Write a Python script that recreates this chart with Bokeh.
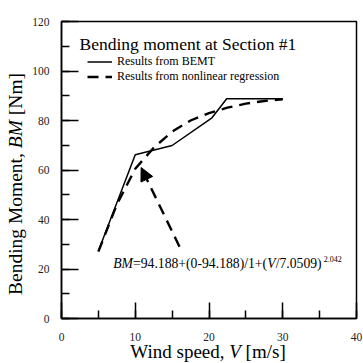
import math
from bokeh.plotting import figure
from bokeh.layouts import column, row
from bokeh.models import Label, Legend, LegendItem, Arrow, NormalHead, Range1d, SingleIntervalTicker, Div
from bokeh.embed import file_html
from bokeh.resources import INLINE

# ---------------- data ----------------
wind_bemt = [5.0, 10.0, 15.0, 20.4, 22.4, 30.0]
bm_bemt = [27.3, 66.2, 69.9, 81.1, 88.8, 88.8]

wind_reg = [5.0, 7.5, 10.0, 12.5, 15.0, 17.5, 20.0, 22.5, 25.0, 27.5, 30.0]
bm_reg = [27.0, 46.0, 60.5, 69.0, 75.5, 80.0, 83.0, 85.2, 86.8, 87.9, 88.6]

arrow_x = [16.0, 10.8]
arrow_y = [29.0, 61.0]

x_limits = [0, 40]
y_limits = [0, 120]

title_text = "Bending moment at Section #1"
legend_labels = ["Results from BEMT", "Results from nonlinear regression"]
x_label_html = "Wind speed, <i>V</i> [m/s]"
y_label_html = "Bending Moment, <i>BM</i> [Nm]"
formula_runs = [("BM", True), ("=94.188+(0-94.188)/1+(", False), ("V", True), ("/7.0509)", False)]
formula_sup = "2.042"

FONT = "Liberation Serif"

# Times metrics (per 1000 em) for laying out mixed-style text runs
REG = {" ": 250, ",": 250, ".": 250, "-": 333, "/": 278, "(": 333, ")": 333, "[": 333, "]": 333,
       "+": 564, "=": 564, "#": 500}
ITA = {"B": 611, "M": 833, "V": 611, " ": 250}


def tw(s, size, italic=False):
    tbl = ITA if italic else REG
    return sum(tbl.get(c, 500) for c in s) * size / 1000.0


p = figure(width=334, height=343, x_range=Range1d(*x_limits), y_range=Range1d(*y_limits),
           output_backend="svg", toolbar_location=None,
           min_border_left=31, min_border_right=7, min_border_top=21, min_border_bottom=25)
p.margin = 0
p.background_fill_color = "white"
p.border_fill_color = "white"
p.outline_line_color = "black"
p.outline_line_width = 1.5
p.xgrid.visible = False
p.ygrid.visible = False

p.xaxis.ticker = SingleIntervalTicker(interval=10, num_minor_ticks=2)
p.yaxis.ticker = SingleIntervalTicker(interval=20, num_minor_ticks=2)
for ax in (p.xaxis[0], p.yaxis[0]):
    ax.axis_line_color = "black"
    ax.axis_line_width = 1.5
    ax.major_tick_line_color = "black"
    ax.major_tick_line_width = 1.5
    ax.minor_tick_line_color = "black"
    ax.minor_tick_line_width = 1.5
    ax.major_tick_out = 0
    ax.minor_tick_out = 0
    ax.minor_tick_in = 8
    ax.major_label_text_font = FONT
    ax.major_label_text_font_size = "11.5px"
    ax.major_label_text_color = "#222222"
p.xaxis.major_tick_in = 16
p.yaxis.major_tick_in = 17
p.xaxis.major_label_standoff = 14
p.yaxis.major_label_standoff = 12
p.yaxis.major_label_text_baseline = "bottom"

r_bemt = p.line(wind_bemt, bm_bemt, line_color="black", line_width=1.5)
r_reg = p.line(wind_reg, bm_reg, line_color="black", line_width=2.4, line_dash="11 7")

legend = Legend(items=[LegendItem(label=legend_labels[0], renderers=[r_bemt]),
                       LegendItem(label=legend_labels[1], renderers=[r_reg])],
                location=(26, 234.5), padding=0, margin=0, spacing=0,
                glyph_width=25, glyph_height=15, label_height=15, label_standoff=5,
                label_text_font=FONT, label_text_font_size="12px", label_text_color="black",
                background_fill_alpha=0, border_line_alpha=0)
p.add_layout(legend)

p.add_layout(Arrow(x_start=arrow_x[0], y_start=arrow_y[0], x_end=arrow_x[1], y_end=arrow_y[1],
                   line_color="black", line_width=2.4, line_dash="11 7",
                   end=NormalHead(size=13, fill_color="black", line_color="black", line_width=1)))

# title inside the frame
p.add_layout(Label(x=x_limits[0], y=y_limits[1], x_offset=18, y_offset=-22.5, text=title_text,
                   text_font=FONT, text_font_size="17.5px", text_color="black",
                   text_align="left", text_baseline="alphabetic"))


def place_runs(runs, size, ax, ay, x0, y0):
    pos = 0.0
    for txt, it in runs:
        p.add_layout(Label(x=ax, y=ay, x_offset=x0 + pos, y_offset=y0, text=txt,
                           text_font=FONT, text_font_size=f"{size}px",
                           text_font_style="italic" if it else "normal", text_color="black",
                           text_align="left", text_baseline="alphabetic"))
        pos += tw(txt, size, it)
    return pos


# formula inside the frame
fs = 13.7
fw = place_runs(formula_runs, fs, x_limits[0], y_limits[0], 51.7, 54.7)
p.add_layout(Label(x=x_limits[0], y=y_limits[0], x_offset=51.7 + fw + 2, y_offset=54.7 + 5,
                   text=formula_sup, text_font=FONT, text_font_size="8px", text_color="black",
                   text_align="left", text_baseline="alphabetic"))

# axis titles (mixed upright / italic) as HTML text
ylab = Div(width=29, height=343, margin=0,
           text=('<div style="white-space:nowrap;font-family:\'Liberation Serif\';font-size:19.5px;'
                 'line-height:19.5px;color:black;width:300px;transform-origin:0 0;'
                 'transform:translate(6px,295px) rotate(-90deg);">' + y_label_html + '</div>'))
xlab = Div(width=363, height=20, margin=0,
           text=('<div style="white-space:nowrap;font-family:\'Liberation Serif\';font-size:19px;'
                 'line-height:19px;color:black;width:296px;margin-left:60px;text-align:center;'
                 'transform:translateY(-1px);">' + x_label_html + '</div>'))

layout = column(row(ylab, p, spacing=0, margin=0), xlab, spacing=0, margin=0)

open("out.html", "w").write(file_html(layout, INLINE))
